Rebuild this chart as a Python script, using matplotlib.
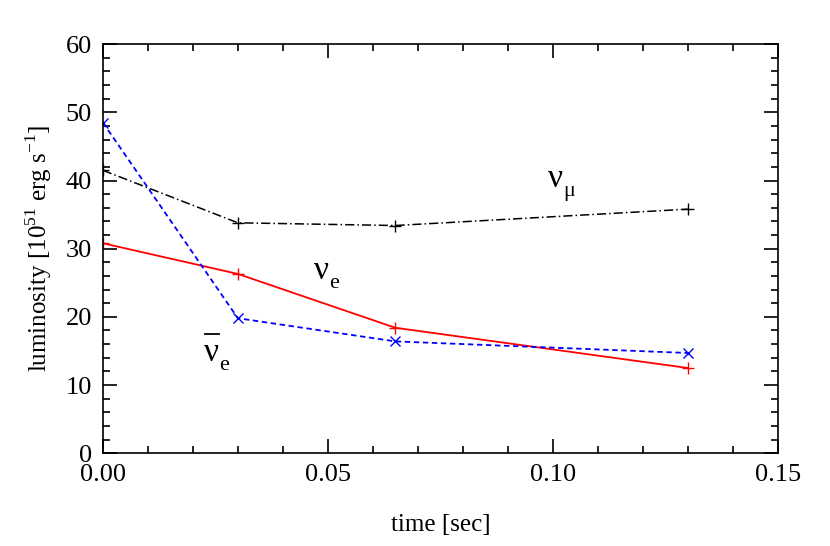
import matplotlib
matplotlib.use('Agg')
import matplotlib.pyplot as plt
from matplotlib.ticker import MultipleLocator, FormatStrFormatter

t = [0.0, 0.03, 0.065, 0.13]
nu_e = [30.8, 26.3, 18.4, 12.5]
nubar_e = [48.5, 19.8, 16.4, 14.7]
nu_mu = [41.5, 33.8, 33.4, 35.8]

plt.rcParams['font.family'] = 'Liberation Serif'
plt.rcParams['mathtext.fontset'] = 'custom'
plt.rcParams['mathtext.rm'] = 'Liberation Serif'

fig = plt.figure(figsize=(8.3, 5.46), dpi=100)
ax = fig.add_axes([0.124, 0.17, 0.813, 0.749])

ax.plot(t, nu_e, color='red', lw=1.3, marker='+', ms=8, mew=1)
ax.plot(t, nubar_e, color='blue', lw=1.3, ls=(0, (3, 2)), marker='x', ms=7, mew=1)
ax.plot(t, nu_mu, color='black', lw=1.1, ls=(0, (6, 2, 1, 2)), marker='+', ms=8, mew=1)

ax.set_xlim(0, 0.15)
ax.set_ylim(0, 60)
ax.xaxis.set_major_locator(MultipleLocator(0.05))
ax.xaxis.set_minor_locator(MultipleLocator(0.01))
ax.yaxis.set_major_locator(MultipleLocator(10))
ax.yaxis.set_minor_locator(MultipleLocator(2))
ax.xaxis.set_major_formatter(FormatStrFormatter('%.2f'))
ax.tick_params(which='both', direction='in', top=True, right=True, labelsize=19, width=1.2, pad=8)
ax.tick_params(which='major', length=10)
ax.tick_params(which='minor', length=5)
for s in ax.spines.values():
    s.set_linewidth(1.2)

ax.set_xlabel('time [sec]', fontsize=18, labelpad=20)
ax.set_ylabel(r'luminosity [10$^{51}$ erg s$^{-1}$]', fontsize=18, labelpad=8)

def nu_label(x, y, sub, bar=False):
    ax.text(x, y, 'ν', fontsize=24, ha='left', va='baseline')
    ax.text(x + 0.0033, y - 1.3, sub, fontsize=16, ha='left', va='baseline')
    if bar:
        ax.plot([x + 0.0002, x + 0.0032], [y + 4.0, y + 4.0], color='black', lw=1.3)

nu_label(0.047, 25.5, 'e')
nu_label(0.0225, 13.5, 'e', bar=True)
nu_label(0.099, 39.0, 'μ')

fig.savefig('out.png')
